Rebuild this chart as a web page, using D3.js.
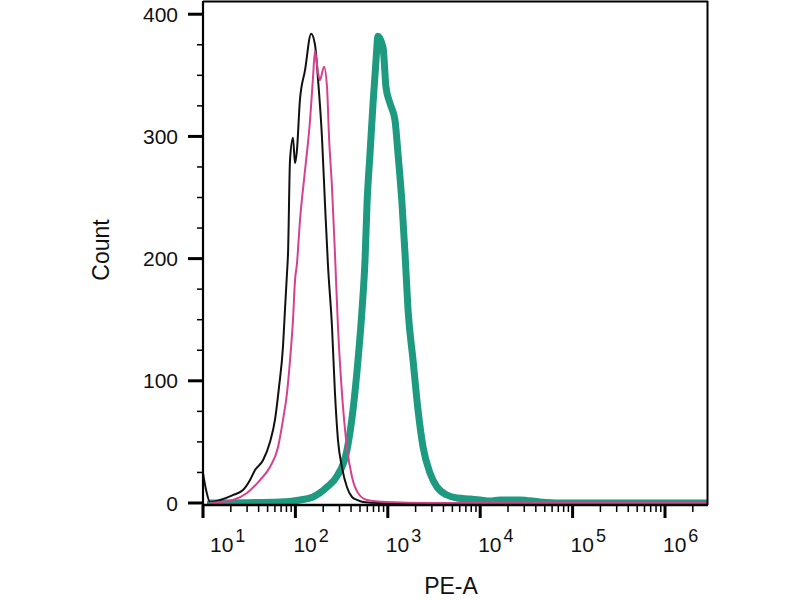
<!DOCTYPE html>
<html>
<head>
<meta charset="utf-8">
<script src="https://cdn.jsdelivr.net/npm/d3@7"></script>
<style>
  html, body { margin: 0; padding: 0; background: #fff; }
  svg { display: block; font-family: "Liberation Sans", Arial, sans-serif; }
</style>
</head>
<body>
<div id="chart"></div>
<script>
"use strict";

// ─── Data ────────────────────────────────────────────────────────────────────
const xDomain = [10, 2.92e6];
const yDomain = [0, 410];
const yMajorTicks = [0, 100, 200, 300, 400];
const xDecades = [1, 2, 3, 4, 5, 6];

// isotype / unstained control (black)
const blackX = [10, 10.8, 11.9, 15.3, 21.1, 27.1, 32.3, 36.6, 44.6, 53.1, 60.1, 66.5,
  73.4, 77.1, 81.1, 83.2, 87.5, 94.2, 99, 104, 112, 127, 148, 163, 176, 194, 209,
  225, 249, 268, 289, 319, 361, 410, 464, 540, 800, 2.92e6];
const blackY = [24.5, 10.6, 0.8, 2.5, 6.5, 10.6, 18.8, 27, 35, 50, 68, 95,
  128, 158, 188, 204, 281, 299, 278, 289, 330, 354, 384, 375, 346, 299, 245,
  195, 144, 90, 51.5, 29.4, 13.1, 4.9, 2.5, 0.8, 0, 0];

// second control (magenta)
const magentaX = [11.9, 21.1, 29.9, 41.4, 53.1, 64.9, 73.4, 81.1, 87.5, 94.2, 99, 104,
  112, 127, 144, 155, 163, 176, 184, 204, 220, 231, 249, 268, 289, 319, 361, 410,
  476, 596, 979, 2865, 2.92e6];
const magentaY = [0, 2.5, 8.2, 18.8, 29.4, 45.8, 68, 90, 117, 150, 182, 196,
  231, 272, 313, 348, 370, 352, 346, 357, 340, 300, 258, 204, 144, 90, 45.8, 21.3,
  8.2, 2.5, 0.8, 0, 0];

// stained sample (teal)
const tealX = [12, 68, 112, 155, 184, 220, 282, 361, 420, 476, 526, 567, 596, 642, 692,
  745, 783, 887, 957, 1057, 1197, 1289, 1425, 1536, 1656, 1875, 2124, 2405, 2865,
  3408, 4373, 5611, 7762, 9956, 12770, 16370, 26970, 44380, 73100, 2.92e6];
const tealY = [0, 0.8, 2.5, 4.9, 8.2, 13.1, 22, 43, 76, 117, 158, 199, 245, 286, 327,
  362, 382, 373, 340, 327, 313, 286, 245, 204, 158, 117, 76, 46, 24.5,
  13.1, 6.5, 4.1, 3.3, 2.5, 1.6, 2.5, 2.5, 0.8, 0, 0];

const SERIES = [
  { xs: tealX,    ys: tealY,    color: "#1d9a80", width: 7 },
  { xs: blackX,   ys: blackY,   color: "#111111", width: 2 },
  { xs: magentaX, ys: magentaY, color: "#d4418f", width: 2 },
];

// ─── Layout ──────────────────────────────────────────────────────────────────
const W = 800, H = 600;
const plotLeft = 203, plotRight = 708, plotTop = 2, zeroY = 503, axisY = 505;

const svg = d3.select("#chart").append("svg")
  .attr("width", W).attr("height", H)
  .attr("viewBox", `0 0 ${W} ${H}`);

const x = d3.scaleLog().domain(xDomain).range([plotLeft, plotRight]);
const y = d3.scaleLinear().domain(yDomain).range([zeroY, plotTop]);

// curves
const line = d3.line()
  .x((d) => x(d[0]))
  .y((d) => y(d[1]))
  .curve(d3.curveMonotoneX);

svg.append("clipPath").attr("id", "plotClip")
  .append("rect").attr("x", plotLeft).attr("y", plotTop)
  .attr("width", plotRight - plotLeft).attr("height", axisY - plotTop);

const plot = svg.append("g").attr("clip-path", "url(#plotClip)");
SERIES.forEach((s) => {
  plot.append("path")
    .datum(s.xs.map((v, i) => [v, s.ys[i]]))
    .attr("d", line)
    .attr("fill", "none")
    .attr("stroke", s.color)
    .attr("stroke-width", s.width)
    .attr("stroke-linejoin", "round")
    .attr("stroke-linecap", "round");
});

// frame
const frame = svg.append("g").attr("stroke", "#000").attr("fill", "none");
frame.append("line").attr("x1", plotLeft).attr("x2", plotRight).attr("y1", 1.5).attr("y2", 1.5).attr("stroke-width", 2);
frame.append("line").attr("x1", plotRight - 0.5).attr("x2", plotRight - 0.5).attr("y1", 1).attr("y2", axisY).attr("stroke-width", 2);
frame.append("line").attr("x1", plotLeft).attr("x2", plotLeft).attr("y1", 1).attr("y2", 518).attr("stroke-width", 2.2);
frame.append("line").attr("x1", plotLeft).attr("x2", plotRight).attr("y1", axisY).attr("y2", axisY).attr("stroke-width", 2.5);

// y ticks: major every 100, minor every 25
const yMinor = d3.range(yDomain[0], yDomain[1], 25).filter((v) => v % 100 !== 0);
frame.selectAll("line.ymin").data(yMinor).join("line")
  .attr("class", "ymin")
  .attr("x1", 197).attr("x2", plotLeft)
  .attr("y1", (d) => y(d)).attr("y2", (d) => y(d))
  .attr("stroke-width", 1.5);
frame.selectAll("line.ymaj").data(yMajorTicks).join("line")
  .attr("class", "ymaj")
  .attr("x1", 188).attr("x2", plotLeft)
  .attr("y1", (d) => y(d)).attr("y2", (d) => y(d))
  .attr("stroke-width", 3);

svg.selectAll("text.ylab").data(yMajorTicks).join("text")
  .attr("class", "ylab")
  .attr("x", 178)
  .attr("y", (d) => y(d) + 7.5)
  .attr("text-anchor", "end")
  .attr("font-size", 21)
  .attr("fill", "#111")
  .text((d) => d);

// x ticks: log decades with minor 2..9
const xMinor = [];
xDecades.forEach((k) => {
  for (let m = 2; m <= 9; m++) {
    const v = m * Math.pow(10, k);
    if (v <= xDomain[1]) xMinor.push(v);
  }
});
const xMajor = xDecades.map((k) => Math.pow(10, k));

frame.selectAll("line.xmin").data(xMinor).join("line")
  .attr("class", "xmin")
  .attr("x1", (d) => x(d)).attr("x2", (d) => x(d))
  .attr("y1", axisY).attr("y2", 512)
  .attr("stroke-width", 1.5);
frame.selectAll("line.xmaj").data(xMajor).join("line")
  .attr("class", "xmaj")
  .attr("x1", (d) => x(d)).attr("x2", (d) => x(d))
  .attr("y1", axisY).attr("y2", 518)
  .attr("stroke-width", 3);

const xLab = svg.selectAll("text.xlab").data(xDecades).join("text")
  .attr("class", "xlab")
  .attr("x", (k) => Math.max(x(Math.pow(10, k)) - 2, plotLeft + 7))
  .attr("y", 552)
  .attr("font-size", 21)
  .attr("fill", "#111");
xLab.append("tspan").text("10");
xLab.append("tspan")
  .attr("dx", 2).attr("dy", -10)
  .attr("font-size", 18)
  .text((k) => k);

// axis titles
svg.append("text")
  .attr("transform", "translate(109,250) rotate(-90)")
  .attr("text-anchor", "middle")
  .attr("font-size", 23)
  .attr("fill", "#111")
  .text("Count");

svg.append("text")
  .attr("x", 451).attr("y", 594)
  .attr("text-anchor", "middle")
  .attr("font-size", 23)
  .attr("fill", "#111")
  .text("PE-A");
</script>
</body>
</html>
